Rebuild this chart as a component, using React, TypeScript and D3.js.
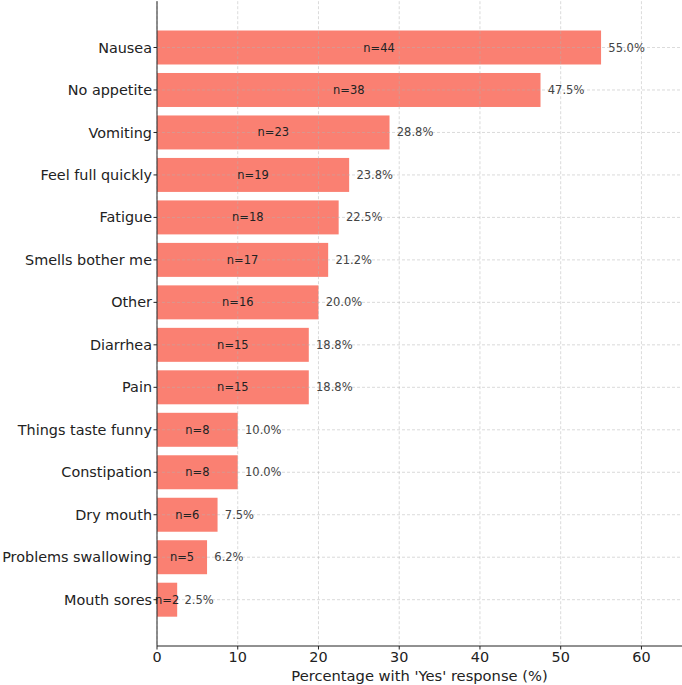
import React from 'react'
import * as d3 from 'd3'

const categories = [
  'Nausea',
  'No appetite',
  'Vomiting',
  'Feel full quickly',
  'Fatigue',
  'Smells bother me',
  'Other',
  'Diarrhea',
  'Pain',
  'Things taste funny',
  'Constipation',
  'Dry mouth',
  'Problems swallowing',
  'Mouth sores',
]
const percents = [55.0, 47.5, 28.8, 23.8, 22.5, 21.2, 20.0, 18.8, 18.8, 10.0, 10.0, 7.5, 6.2, 2.5]
const counts = [44, 38, 23, 19, 18, 17, 16, 15, 15, 8, 8, 6, 5, 2]
const xTicks = [0, 10, 20, 30, 40, 50, 60]

const W = 682
const H = 685
const margin = { top: 1.2, right: 1, bottom: 39, left: 157 }
const font = '"DejaVu Sans", sans-serif'

export default function App() {
  const x = d3.scaleLinear().domain([0, 64.9]).range([margin.left, W - margin.right])
  const y = d3
    .scaleBand()
    .domain(categories)
    .range([margin.top, H - margin.bottom])
    .paddingInner(0.2)
    .paddingOuter(0.69)
  const y0 = H - margin.bottom
  const bw = y.bandwidth()

  return (
    <svg width={W} height={H} style={{ position: 'absolute', left: 0, top: 0 }} fontFamily={font}>
      {categories.map((c, i) => (
        <rect key={c} x={x(0)} y={y(c)} width={x(percents[i]) - x(0)} height={bw} fill="#FA8072" />
      ))}
      {/* grid */}
      <g stroke="#b0b0b0" strokeOpacity={0.6} strokeWidth={0.8} strokeDasharray="3,2">
        {xTicks.map((t) => (
          <line key={t} x1={x(t)} x2={x(t)} y1={margin.top} y2={y0} />
        ))}
        {categories.map((c) => (
          <line key={c} x1={margin.left} x2={W - margin.right} y1={y(c) + bw / 2} y2={y(c) + bw / 2} />
        ))}
      </g>
      {/* value labels */}
      {categories.map((c, i) => (
        <g key={c} fontSize={11.5}>
          <text x={x(percents[i] / 2)} y={y(c) + bw / 2} dy="0.35em" textAnchor="middle" fill="#222">
            n={counts[i]}
          </text>
          <text x={x(percents[i] + 0.9)} y={y(c) + bw / 2} dy="0.35em" fill="#444">
            {percents[i].toFixed(1)}%
          </text>
        </g>
      ))}
      {/* axes */}
      <line x1={margin.left} x2={margin.left} y1={margin.top} y2={y0} stroke="#222" strokeWidth={1} />
      <line x1={margin.left} x2={W} y1={y0} y2={y0} stroke="#222" strokeWidth={1} />
      {categories.map((c) => (
        <g key={c} transform={`translate(${margin.left},${y(c) + bw / 2})`}>
          <line x1={-3.5} x2={0} stroke="#222" strokeWidth={1} />
          <text x={-5} dy="0.35em" textAnchor="end" fontSize={14.4} fill="#222">
            {c}
          </text>
        </g>
      ))}
      {xTicks.map((t) => (
        <g key={t} transform={`translate(${x(t)},${y0})`}>
          <line y1={0} y2={3.5} stroke="#222" strokeWidth={1} />
          <text y={16} textAnchor="middle" fontSize={14.4} fill="#222">
            {t}
          </text>
        </g>
      ))}
      <text x={(margin.left + W) / 2} y={681} textAnchor="middle" fontSize={14.7} fill="#222">
        Percentage with 'Yes' response (%)
      </text>
    </svg>
  )
}
